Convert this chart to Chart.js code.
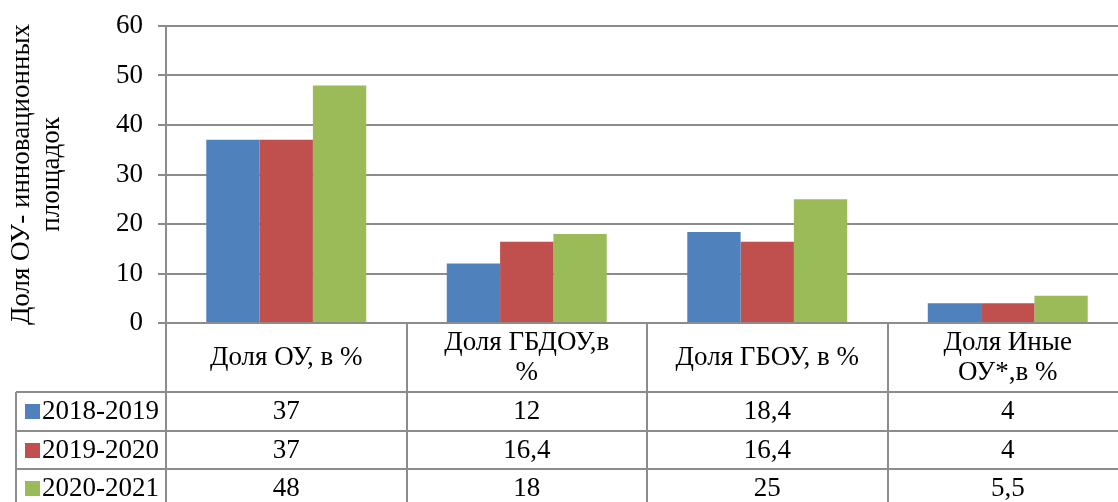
<!DOCTYPE html>
<html>
<head>
<meta charset="utf-8">
<script src="https://cdn.jsdelivr.net/npm/chart.js@4.4.1/dist/chart.umd.min.js"></script>
<style>
html,body{margin:0;padding:0;overflow:hidden;background:#fff;}
#wrap{width:1130px;height:502px;}
</style>
</head>
<body>
<div id="wrap"><canvas id="c" width="1130" height="502"></canvas></div>
<script>
const categories = [["Доля ОУ, в %"], ["Доля ГБДОУ,в", "%"], ["Доля ГБОУ, в %"], ["Доля Иные", "ОУ*,в %"]];
const seriesLabels = ["2018-2019", "2019-2020", "2020-2021"];
const series2018 = [37, 12, 18.4, 4];
const series2019 = [37, 16.4, 16.4, 4];
const series2020 = [48, 18, 25, 5.5];
const seriesColors = ["#4F81BD", "#C0504D", "#9BBB59"];
const yTitle = ["Доля ОУ- инновационных", "площадок"];

const FONT = '"Times New Roman", "Liberation Serif", "DejaVu Serif", serif';
const FS = 27;
const LINE = '#8c8c8c';

const tablePlugin = {
  id: 'dataTable',
  afterDraw(chart) {
    const ctx = chart.ctx;
    const x = chart.scales.x;
    const area = chart.chartArea;
    const rowTop = 392, rowH = 38.5;
    const left = 16;
    const n = categories.length;
    const step = x.getPixelForValue(1) - x.getPixelForValue(0);
    ctx.save();
    ctx.strokeStyle = LINE;
    ctx.lineWidth = 2;
    ctx.beginPath();
    for (let i = 0; i < n; i++) {
      const bx = Math.round(x.getPixelForValue(i) - step / 2);
      ctx.moveTo(bx, area.bottom); ctx.lineTo(bx, 502);
    }
    ctx.moveTo(left, rowTop); ctx.lineTo(left, 502);
    for (let r = 0; r < seriesLabels.length; r++) {
      const y = Math.round(rowTop + r * rowH);
      ctx.moveTo(left, y); ctx.lineTo(chart.width, y);
    }
    ctx.stroke();

    ctx.font = FS + "px " + FONT;
    ctx.textBaseline = 'middle';
    chart.data.datasets.forEach((ds, r) => {
      const cy = rowTop + r * rowH + rowH / 2;
      ctx.fillStyle = ds.backgroundColor;
      ctx.fillRect(25, Math.round(cy - 7), 15, 15);
      ctx.fillStyle = '#000';
      ctx.textAlign = 'left';
      ctx.fillText(ds.label, 42, cy + 1);
      ctx.textAlign = 'center';
      ds.data.forEach((v, i) => {
        ctx.fillText(String(v).replace('.', ','), x.getPixelForValue(i), cy + 1);
      });
    });
    ctx.restore();
  }
};

new Chart(document.getElementById('c'), {
  type: 'bar',
  data: {
    labels: categories,
    datasets: [
      { label: seriesLabels[0], data: series2018, backgroundColor: seriesColors[0] },
      { label: seriesLabels[1], data: series2019, backgroundColor: seriesColors[1] },
      { label: seriesLabels[2], data: series2020, backgroundColor: seriesColors[2] }
    ]
  },
  options: {
    responsive: false,
    devicePixelRatio: 1,
    animation: false,
    events: [],
    categoryPercentage: 0.665,
    barPercentage: 1,
    layout: { padding: { top: 26, right: 2, left: 0, bottom: 0 } },
    plugins: { legend: { display: false }, tooltip: { enabled: false } },
    scales: {
      x: {
        afterFit(s) { s.height = 179; },
        grid: { display: false, drawTicks: false },
        border: { display: false },
        ticks: {
          padding: 20,
          crossAlign: 'center',
          maxRotation: 0,
          autoSkip: false,
          color: '#000',
          font: { family: FONT, size: FS, lineHeight: 1.1 }
        }
      },
      y: {
        min: 0, max: 60,
        afterFit(s) { s.width = 166; s.paddingTop = 0; s.paddingBottom = 0; },
        grid: { color: LINE, lineWidth: 2, tickLength: 8 },
        border: { display: true, color: LINE, width: 2 },
        ticks: {
          stepSize: 10,
          padding: 15,
          color: '#000',
          font: { family: FONT, size: FS }
        },
        title: {
          display: true,
          text: yTitle,
          color: '#000',
          padding: { top: 7, bottom: 0 },
          font: { family: FONT, size: FS, lineHeight: 1.1 }
        }
      }
    }
  },
  plugins: [tablePlugin]
});
</script>
</body>
</html>
